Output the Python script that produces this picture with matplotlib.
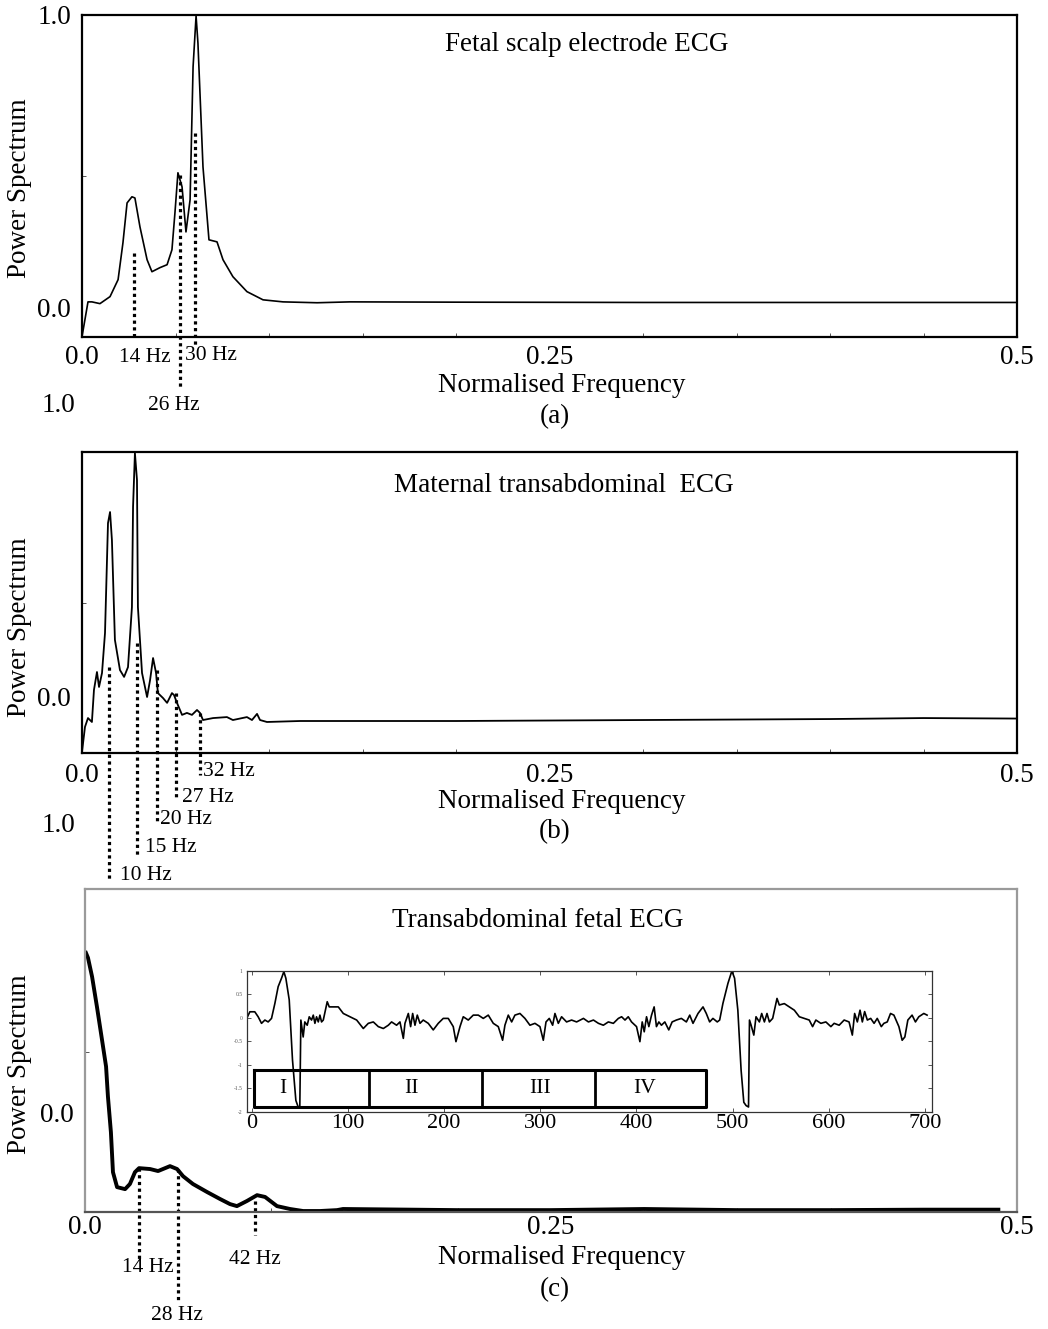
import matplotlib
matplotlib.use("Agg")
import matplotlib.pyplot as plt

plt.rcParams['font.family'] = ['Liberation Serif', 'DejaVu Serif']

W, H = 1048, 1329

# ---------------- data ----------------
# (a) Fetal scalp electrode ECG
fa_x = [0.0, 0.0032, 0.0053, 0.0096, 0.0150, 0.0193, 0.0219, 0.0241, 0.0267, 0.0283,
        0.0310, 0.0348, 0.0374, 0.0417, 0.0455, 0.0481, 0.0497, 0.0513, 0.0535, 0.0556,
        0.0578, 0.0594, 0.0610, 0.0620, 0.0647, 0.0679, 0.0722, 0.0754, 0.0807, 0.0882,
        0.0968, 0.1075, 0.1257, 0.1433, 0.2, 0.3, 0.4, 0.5]
fa_y = [-0.099, 0.020, 0.020, 0.014, 0.038, 0.096, 0.222, 0.358, 0.379, 0.375,
        0.276, 0.164, 0.123, 0.137, 0.147, 0.198, 0.324, 0.461, 0.413, 0.259,
        0.369, 0.823, 0.997, 0.904, 0.481, 0.232, 0.225, 0.164, 0.106, 0.055,
        0.027, 0.020, 0.017, 0.020, 0.019, 0.018, 0.018, 0.018]
ma_labels = ['14 Hz', '26 Hz', '30 Hz']
ma_freq = [0.0278, 0.0524, 0.0604]
ma_top = [0.188, 0.454, 0.597]

# (b) Maternal transabdominal ECG
fb_x = [0.0, 0.0016, 0.0032, 0.0053, 0.0064, 0.0080, 0.0091, 0.0107, 0.0123, 0.0139,
        0.0150, 0.0160, 0.0176, 0.0203, 0.0225, 0.0246, 0.0267, 0.0273, 0.0283, 0.0294,
        0.0299, 0.0321, 0.0348, 0.0364, 0.0380, 0.0396, 0.0406, 0.0433, 0.0455, 0.0481,
        0.0492, 0.0508, 0.0535, 0.0561, 0.0588, 0.0615, 0.0631, 0.0647, 0.0701, 0.0775,
        0.0807, 0.0882, 0.0909, 0.0936, 0.0952, 0.0989, 0.1166, 0.1433, 0.2, 0.3,
        0.4, 0.45, 0.5]
fb_y = [-0.224, -0.122, -0.086, -0.102, 0.029, 0.102, 0.041, 0.098, 0.261, 0.710,
        0.755, 0.641, 0.233, 0.110, 0.082, 0.122, 0.367, 0.776, 0.996, 0.886,
        0.367, 0.098, 0.0, 0.069, 0.159, 0.098, 0.016, -0.004, -0.024, 0.016,
        0.008, -0.024, -0.073, -0.065, -0.073, -0.053, -0.065, -0.094, -0.086, -0.082,
        -0.094, -0.082, -0.094, -0.069, -0.094, -0.102, -0.098, -0.098, -0.098, -0.094,
        -0.090, -0.086, -0.088]
mb_labels = ['10 Hz', '15 Hz', '20 Hz', '27 Hz', '32 Hz']
mb_freq = [0.0147, 0.0294, 0.0401, 0.0503, 0.0631]
mb_top = [0.122, 0.220, 0.110, 0.016, -0.065]

# (c) Transabdominal fetal ECG
fc_x = [0.0005, 0.0016, 0.0038, 0.0064, 0.0091, 0.0113, 0.0123, 0.0139, 0.0150, 0.0172,
        0.0215, 0.0241, 0.0268, 0.0290, 0.0349, 0.0392, 0.0456, 0.0494, 0.0526, 0.0579,
        0.0655, 0.0724, 0.0778, 0.0815, 0.0869, 0.0923, 0.0966, 0.1030, 0.1100, 0.1170,
        0.1261, 0.1352, 0.1384, 0.2, 0.25, 0.3, 0.35, 0.4, 0.45, 0.49]
fc_y = [0.714, 0.692, 0.607, 0.473, 0.326, 0.205, 0.071, -0.089, -0.268, -0.335,
        -0.344, -0.321, -0.268, -0.250, -0.254, -0.263, -0.241, -0.254, -0.286, -0.321,
        -0.357, -0.388, -0.411, -0.420, -0.397, -0.371, -0.379, -0.420, -0.433, -0.442,
        -0.442, -0.438, -0.433, -0.438, -0.438, -0.433, -0.438, -0.438, -0.436, -0.436]
mc_labels = ['14 Hz', '28 Hz', '42 Hz']
mc_freq = [0.0290, 0.0499, 0.0912]
mc_top = [-0.250, -0.254, -0.397]

# inset: time-domain transabdominal ECG
ecg_t = [-5, -1.7, 3.4, 6.9, 10.4, 13.9, 17.3, 20.8, 24.3, 27.7,
         31.2, 33.6, 35.7, 39.2, 42.6, 46.1, 48.5, 50.2, 51.3, 53.7,
         55.4, 57.9, 60.0, 62.4, 64.2, 65.9, 67.6, 69.4, 71.1, 72.8,
         74.6, 78.7, 80.8, 85, 90.2, 95.4, 102.3, 109.3, 116.2, 121.4,
         126.6, 131.8, 137, 142.2, 145.6, 150.8, 154.3, 157.8, 159.5, 163,
         165.4, 167.5, 169.9, 172.3, 175.1, 178.5, 183.7, 188.9, 194.1, 199.3,
         204.5, 209.7, 212.5, 216.7, 220.1, 225.3, 230.5, 235.7, 240.9, 246.1,
         251.3, 256.5, 261, 263.4, 266.9, 270.4, 273.8, 279, 284.2, 289.4,
         294.6, 299.8, 303.3, 306.1, 309.5, 313, 315.4, 318.9, 322.3, 327.5,
         332.7, 337.9, 345, 350.2, 355.4, 360.6, 365.7, 370.9, 376.1, 381.3,
         384.7, 388.2, 391.6, 395, 400.2, 403.7, 406.1, 408.2, 410.6, 413,
         415.8, 418.5, 420.9, 423.4, 426.1, 429.6, 433.7, 437.2, 441.6, 446.8,
         452, 455.5, 458.9, 464.1, 469.3, 472.7, 476.2, 479.6, 484.1, 486.6,
         490, 495.2, 499.3, 502.1, 505.5, 508.9, 511.7, 514.1, 516.6, 517.6,
         519.3, 522.1, 524.4, 527.9, 530.3, 533.1, 535.8, 538.3, 541.7, 546.2,
         548.6, 553.8, 559, 564.2, 569.4, 574.5, 579.7, 583.2, 586.6, 591.8,
         597, 602.2, 605.6, 610.8, 616, 621.1, 624.5, 626.9, 629.7, 632.5,
         634.9, 637.3, 640.1, 643.6, 647.1, 650.4, 654.6, 657.3, 660.8, 664.2,
         667.7, 672.9, 676.3, 679.1, 682.2, 686.6, 690.1, 693.6, 698.8, 702.2]
ecg_v = [-0.015, 0.126, 0.126, 0.02, -0.12, -0.05, -0.09, -0.015, 0.305, 0.66,
         0.84, 0.98, 0.84, 0.38, -0.90, -1.76, -1.90, -1.89, -0.05, -0.41,
         -0.09, -0.16, 0.019, -0.05, 0.055, -0.12, 0.019, -0.09, 0.055, -0.09,
         -0.05, 0.34, 0.23, 0.23, 0.23, 0.09, 0.02, -0.05, -0.23, -0.12,
         -0.09, -0.19, -0.23, -0.16, -0.09, -0.16, -0.09, -0.44, -0.12, 0.09,
         -0.19, 0.09, -0.16, 0.055, -0.12, -0.05, -0.12, -0.26, -0.12, -0.015,
         -0.015, -0.19, -0.51, -0.19, 0.02, -0.05, 0.055, 0.055, -0.015, 0.055,
         -0.12, -0.19, -0.48, -0.16, 0.055, -0.09, 0.055, 0.09, -0.015, -0.16,
         -0.12, -0.19, -0.48, -0.09, -0.015, -0.16, 0.09, -0.12, 0.02, -0.09,
         -0.05, -0.09, -0.015, -0.09, -0.05, -0.12, -0.16, -0.09, -0.12, -0.015,
         0.02, -0.05, 0.02, -0.09, -0.19, -0.51, -0.09, -0.30, 0.02, -0.19,
         0.055, 0.23, -0.19, -0.09, -0.16, -0.09, -0.26, -0.09, -0.05, -0.015,
         -0.09, 0.055, -0.12, 0.09, 0.23, 0.09, -0.09, -0.015, -0.09, -0.05,
         0.305, 0.73, 0.995, 0.84, 0.16, -1.12, -1.80, -1.87, -1.90, -0.05,
         -0.16, -0.37, 0.02, -0.09, 0.09, -0.09, 0.09, -0.09, -0.015, 0.41,
         0.27, 0.30, 0.23, 0.16, 0.02, -0.015, -0.05, -0.19, -0.05, -0.12,
         -0.09, -0.19, -0.12, -0.16, -0.05, -0.09, -0.37, 0.09, -0.09, 0.16,
         -0.09, 0.13, -0.05, -0.015, -0.12, -0.015, -0.19, -0.12, -0.09, 0.09,
         0.055, -0.19, -0.48, -0.41, -0.05, 0.055, -0.09, 0.02, 0.09, 0.055]
seg_labels = ['I', 'II', 'III', 'IV']
seg_edges = [2.4, 121.8, 239.8, 357.0, 472.7]
seg_label_x = [32.7, 166.7, 300.0, 408.9]

# ---------------- figure ----------------
fig = plt.figure(figsize=(W / 100, H / 100), dpi=100)
fig.patch.set_facecolor('white')


def ax_rect(l, t, r, b):
    return [l / W, 1 - b / H, (r - l) / W, (b - t) / H]


def ftext(x, y, s, **kw):
    fig.text(x / W, 1 - y / H, s, **kw)


def py2data(ax, py):
    return ax.transData.inverted().transform((0, H - py))[1]


FS = 19.5
HZ = 15.5

axa = fig.add_axes(ax_rect(82, 15, 1017, 337))
axb = fig.add_axes(ax_rect(82, 452, 1017, 753))
axc = fig.add_axes(ax_rect(85, 889, 1017, 1212))

setup = [
    (axa, (-0.1, 1.0), [0.0, 1.0], ['0.0', '1.0'], 0.45, 188, 6),
    (axb, (-0.2286, 1.0), [0.0], ['0.0'], 0.384, 627, 7),
    (axc, (-0.4464, 1.0), [0.0], ['0.0'], 0.272, 1064, 2),
]
for ax, yl, yt, ytl, minor, ylab_y, xpad in setup:
    ax.set_xlim(0, 0.5)
    ax.set_ylim(*yl)
    ax.set_xticks([0.0, 0.25, 0.5])
    ax.set_xticklabels(['0.0', '0.25', '0.5'], fontsize=FS)
    ax.set_xticks([0.05 * k for k in range(1, 10)], minor=True)
    ax.set_yticks(yt)
    ax.set_yticklabels(ytl, fontsize=FS)
    ax.set_yticks([minor], minor=True)
    ax.tick_params(axis='y', which='major', length=0, pad=8)
    ax.tick_params(axis='x', which='major', length=0, pad=xpad)
    ax.tick_params(axis='both', which='minor', length=3, direction='in', width=0.7,
                   color='#555555')
    ftext(20, ylab_y, 'Power Spectrum', rotation=90, ha='center', va='center', fontsize=FS)

for sp in axa.spines.values():
    sp.set_linewidth(1.6)
for sp in axb.spines.values():
    sp.set_linewidth(1.6)
for name, sp in axc.spines.items():
    sp.set_linewidth(1.6)
    sp.set_color('#555555' if name == 'bottom' else '#9a9a9a')

axa.plot(fa_x, fa_y, color='black', lw=1.2)
axb.plot(fb_x, fb_y, color='black', lw=1.3)
axc.plot(fc_x, fc_y, color='black', lw=2.8)

axa.text(0.540, 0.907, 'Fetal scalp electrode ECG', transform=axa.transAxes,
         ha='center', va='center', fontsize=FS)
axb.text(0.515, 0.890, 'Maternal transabdominal  ECG', transform=axb.transAxes,
         ha='center', va='center', fontsize=FS)
axc.text(0.486, 0.901, 'Transabdominal fetal ECG', transform=axc.transAxes,
         ha='center', va='center', fontsize=FS)

for y, lab in [(386, 'Normalised Frequency'), (801, 'Normalised Frequency'),
               (1257, 'Normalised Frequency')]:
    ftext(562, y, lab, ha='center', va='center', fontsize=FS)
for y, lab in [(417, '(a)'), (832, '(b)'), (1290, '(c)')]:
    ftext(555, y, lab, ha='center', va='center', fontsize=FS)

# stray axis numbers of the original
ftext(58, 405, '1.0', ha='center', va='center', fontsize=FS)
ftext(58, 825, '1.0', ha='center', va='center', fontsize=FS)

dot = dict(color='black', lw=2.3, linestyle=(0, (1.0, 1.1)), clip_on=False)

# markers (a)
a_bottom = [337, 388, 347]
a_text = [(145, 357, 'center'), (174, 405, 'center'), (185, 355, 'left')]
for f, top, pb, (tx, ty, ha), lab in zip(ma_freq, ma_top, a_bottom, a_text, ma_labels):
    axa.plot([f, f], [top, py2data(axa, pb)], **dot)
    ftext(tx, ty, lab, ha=ha, va='center', fontsize=HZ)

# markers (b)
b_bottom = [880, 855, 822, 798, 775]
b_text = [(120, 875), (145, 848), (160, 820), (182, 797), (203, 772)]
for f, top, pb, (tx, ty), lab in zip(mb_freq, mb_top, b_bottom, b_text, mb_labels):
    axb.plot([f, f], [top, py2data(axb, pb)], **dot)
    ftext(tx, ty, lab, ha='left', va='center', fontsize=HZ)

# markers (c)
c_bottom = [1260, 1303, 1235]
c_text = [(148, 1267), (177, 1315), (255, 1260)]
for f, top, pb, (tx, ty), lab in zip(mc_freq, mc_top, c_bottom, c_text, mc_labels):
    axc.plot([f, f], [top, py2data(axc, pb)], **dot)
    ftext(tx, ty, lab, ha='center', va='center', fontsize=HZ)

# ---------------- inset ----------------
axi = fig.add_axes(ax_rect(246.7, 970.7, 931.7, 1111.7))
axi.set_xlim(-5, 707)
axi.set_ylim(-2, 1)
axi.set_xticks([0, 100, 200, 300, 400, 500, 600, 700])
axi.set_xticklabels(['0', '100', '200', '300', '400', '500', '600', '700'], fontsize=16)
axi.set_yticks([1, 0.5, 0, -0.5, -1, -1.5, -2])
axi.set_yticklabels(['1', '0.5', '0', '-0.5', '-1', '-1.5', '-2'], fontsize=4, color='#888888')
axi.tick_params(axis='both', direction='in', length=3, width=0.7, top=True, right=True,
                pad=3, colors='#555555')
axi.tick_params(axis='x', labelcolor='black', pad=2)
for sp in axi.spines.values():
    sp.set_linewidth(0.9)
    sp.set_color('#333333')

box_top, box_bot = -1.12, -1.89
axi.plot([seg_edges[0], seg_edges[-1], seg_edges[-1], seg_edges[0], seg_edges[0]],
         [box_top, box_top, box_bot, box_bot, box_top], color='black', lw=2.2)
for e in seg_edges[1:-1]:
    axi.plot([e, e], [box_top, box_bot], color='black', lw=2.0)
for x, lab in zip(seg_label_x, seg_labels):
    axi.text(x, -1.51, lab, ha='center', va='center', fontsize=HZ)
axi.plot(ecg_t, ecg_v, color='black', lw=1.2)

fig.savefig('out.png', dpi=100, facecolor='white')
